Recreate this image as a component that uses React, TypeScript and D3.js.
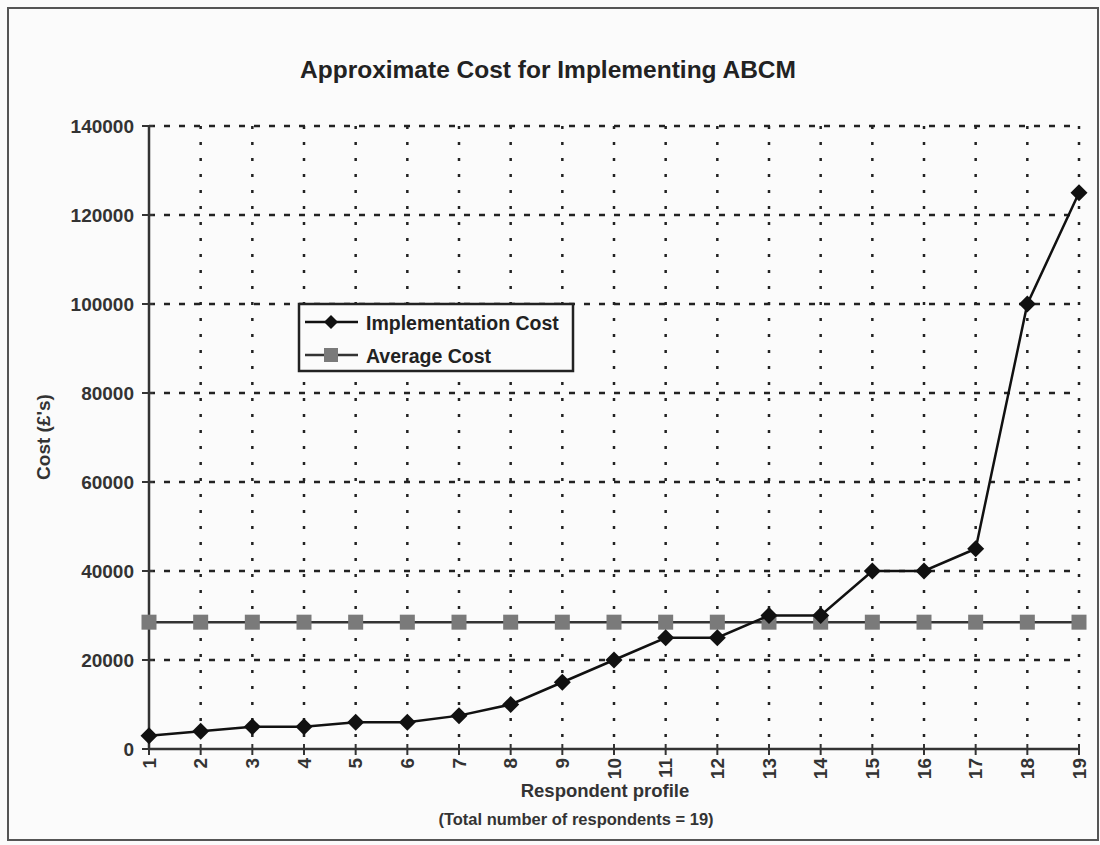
import React from "react";
import * as d3 from "d3";

const respondents = [1, 2, 3, 4, 5, 6, 7, 8, 9, 10, 11, 12, 13, 14, 15, 16, 17, 18, 19];
const implementationCost = [3000, 4000, 5000, 5000, 6000, 6000, 7500, 10000, 15000, 20000, 25000, 25000, 30000, 30000, 40000, 40000, 45000, 100000, 125000];
const averageCost = [28500, 28500, 28500, 28500, 28500, 28500, 28500, 28500, 28500, 28500, 28500, 28500, 28500, 28500, 28500, 28500, 28500, 28500, 28500];
const yTicks = [0, 20000, 40000, 60000, 80000, 100000, 120000, 140000];

const W = 1100;
const H = 845;
const FONT = "Arial, 'Liberation Sans', Helvetica, sans-serif";

export default function App() {
  const x = d3.scaleLinear().domain([1, 19]).range([149, 1079]);
  const y = d3.scaleLinear().domain([0, 140000]).range([749, 126]);
  const line = d3
    .line<number>()
    .x((_, i) => x(respondents[i]))
    .y((d) => y(d));

  const diamond = (cx: number, cy: number, r: number) =>
    `M${cx},${cy - r}L${cx + r},${cy}L${cx},${cy + r}L${cx - r},${cy}Z`;

  return (
    <svg
      width={W}
      height={H}
      style={{ position: "absolute", left: 0, top: 0, background: "#fbfbfb" }}
      fontFamily={FONT}
    >
      <rect x={0} y={0} width={W} height={H} fill="#fbfbfb" />
      <rect x={8} y={8} width={1090} height={832} fill="none" stroke="#555" strokeWidth={2} />

      <text x={548} y={78} textAnchor="middle" fontSize={24.5} fontWeight="bold" fill="#222">
        Approximate Cost for Implementing ABCM
      </text>

      {/* horizontal grid */}
      {yTicks.filter((t) => t > 0).map((t) => (
        <line
          key={"h" + t}
          x1={x(1)}
          x2={x(19)}
          y1={y(t)}
          y2={y(t)}
          stroke="#222"
          strokeWidth={2.5}
          strokeDasharray="6,9"
        />
      ))}
      {/* vertical grid */}
      {respondents.filter((r) => r > 1).map((r) => (
        <line
          key={"v" + r}
          x1={x(r)}
          x2={x(r)}
          y1={y(140000)}
          y2={y(0)}
          stroke="#222"
          strokeWidth={2.5}
          strokeDasharray="3,13"
        />
      ))}

      {/* axes */}
      <line x1={x(1)} x2={x(1)} y1={y(140000)} y2={y(0)} stroke="#333" strokeWidth={2.5} />
      <line x1={x(1)} x2={x(19)} y1={y(0)} y2={y(0)} stroke="#333" strokeWidth={2.5} />
      {yTicks.map((t) => (
        <g key={"yt" + t}>
          <line x1={x(1) - 7} x2={x(1) + 4} y1={y(t)} y2={y(t)} stroke="#333" strokeWidth={2} />
          <text
            x={134}
            y={y(t)}
            textAnchor="end"
            dominantBaseline="central"
            fontSize={19}
            fontWeight="bold"
            fill="#333"
          >
            {t}
          </text>
        </g>
      ))}
      {respondents.map((r) => (
        <g key={"xt" + r}>
          <line x1={x(r)} x2={x(r)} y1={y(0) - 5} y2={y(0) + 6} stroke="#333" strokeWidth={2} />
          <text
            transform={`translate(${x(r)},${y(0) + 9}) rotate(-90)`}
            textAnchor="end"
            dominantBaseline="central"
            fontSize={19}
            fontWeight="bold"
            fill="#333"
          >
            {r}
          </text>
        </g>
      ))}

      <text
        transform={`translate(43,437) rotate(-90)`}
        textAnchor="middle"
        dominantBaseline="central"
        fontSize={19}
        fontWeight="bold"
        fill="#333"
      >
        Cost (£'s)
      </text>
      <text x={605} y={797} textAnchor="middle" fontSize={18.5} fontWeight="bold" fill="#333">
        Respondent profile
      </text>
      <text x={576} y={825} textAnchor="middle" fontSize={16.5} fontWeight="bold" fill="#333">
        (Total number of respondents = 19)
      </text>

      {/* average series */}
      <path d={line(averageCost) || ""} fill="none" stroke="#333" strokeWidth={2.5} />
      {averageCost.map((v, i) => (
        <rect
          key={"s" + i}
          x={x(respondents[i]) - 7.5}
          y={y(v) - 7.5}
          width={15}
          height={15}
          fill="#7a7a7a"
        />
      ))}

      {/* implementation series */}
      <path d={line(implementationCost) || ""} fill="none" stroke="#111" strokeWidth={2.5} />
      {implementationCost.map((v, i) => (
        <path key={"d" + i} d={diamond(x(respondents[i]), y(v), 8.5)} fill="#111" />
      ))}

      {/* legend */}
      <rect x={299} y={304} width={274} height={67} fill="#fbfbfb" stroke="#222" strokeWidth={2.5} />
      <line x1={305} x2={358} y1={322} y2={322} stroke="#111" strokeWidth={2.5} />
      <path d={diamond(331, 322, 7)} fill="#111" />
      <text x={366} y={323} dominantBaseline="central" fontSize={19.5} fontWeight="bold" fill="#222">
        Implementation Cost
      </text>
      <line x1={305} x2={358} y1={355} y2={355} stroke="#333" strokeWidth={2.5} />
      <rect x={324} y={348} width={14} height={14} fill="#7a7a7a" />
      <text x={366} y={356} dominantBaseline="central" fontSize={19.5} fontWeight="bold" fill="#222">
        Average Cost
      </text>
    </svg>
  );
}
